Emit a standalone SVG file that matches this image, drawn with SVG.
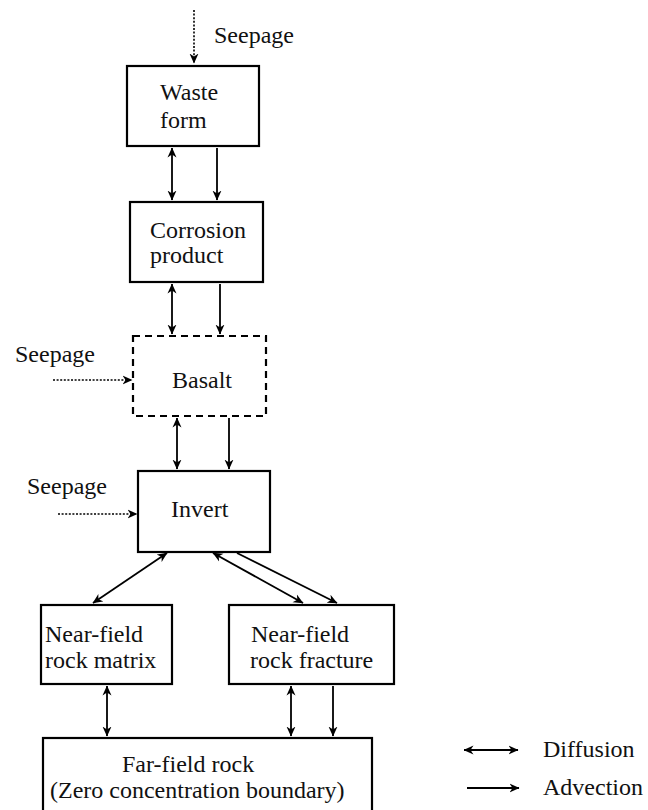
<svg xmlns="http://www.w3.org/2000/svg" width="648" height="810" viewBox="0 0 648 810" font-family="Liberation Serif, Times New Roman, Times, Nimbus Roman, FreeSerif, DejaVu Serif, serif">
<style>
  .box { fill: #fff; stroke: #000; stroke-width: 2.2; }
  .dash { stroke-dasharray: 7 5; }
  text { font-size: 24px; fill: #111; }
  .flow { stroke: #000; stroke-width: 1.8; fill: none; }
  .seep { stroke: #000; stroke-width: 1.6; stroke-dasharray: 2 1.6; fill: none; }
</style>
<defs>
  <marker id="head" viewBox="0 0 10 10" refX="9.5" refY="5" markerWidth="10" markerHeight="10" markerUnits="userSpaceOnUse" orient="auto-start-reverse">
    <path d="M0,0.5 L10,5 L0,9.5 L3,5 z" fill="#000"/>
  </marker>
</defs>
<rect width="648" height="810" fill="#fff"/>

<g id="waste-form">
  <rect class="box" x="127" y="66" width="132" height="80"/>
  <text x="160" y="100">Waste</text>
  <text x="160" y="128">form</text>
</g>

<g id="corrosion-product">
  <rect class="box" x="130" y="202" width="133" height="80"/>
  <text x="150" y="238">Corrosion</text>
  <text x="150" y="263">product</text>
</g>

<g id="basalt">
  <rect class="box dash" x="133" y="336" width="133" height="80"/>
  <text x="172" y="388">Basalt</text>
</g>

<g id="invert">
  <rect class="box" x="138" y="471" width="132" height="81"/>
  <text x="171" y="517">Invert</text>
</g>

<g id="near-field-matrix">
  <rect class="box" x="41" y="605" width="131" height="79"/>
  <text x="45" y="642">Near-field</text>
  <text x="45" y="668">rock matrix</text>
</g>

<g id="near-field-fracture">
  <rect class="box" x="229" y="605" width="165" height="79"/>
  <text x="251" y="642">Near-field</text>
  <text x="250" y="668">rock fracture</text>
</g>

<g id="far-field-rock">
  <rect class="box" x="43" y="738" width="329" height="80"/>
  <text x="122" y="772">Far-field rock</text>
  <text x="50" y="798">(Zero concentration boundary)</text>
</g>

<g id="seepage-labels">
  <text x="214" y="43">Seepage</text>
  <text x="15" y="362">Seepage</text>
  <text x="27" y="494">Seepage</text>
</g>

<g id="connectors">
  <!-- seepage inflows -->
  <path class="seep" d="M194,10 V63" marker-end="url(#head)"/>
  <path class="seep" d="M53,380 H132" marker-end="url(#head)"/>
  <path class="seep" d="M58,514 H137" marker-end="url(#head)"/>
  <!-- waste form / corrosion product -->
  <path class="flow" d="M172,148 V200" marker-start="url(#head)" marker-end="url(#head)"/>
  <path class="flow" d="M217,148 V200" marker-end="url(#head)"/>
  <!-- corrosion product / basalt -->
  <path class="flow" d="M172,284 V334" marker-start="url(#head)" marker-end="url(#head)"/>
  <path class="flow" d="M220,284 V334" marker-end="url(#head)"/>
  <!-- basalt / invert -->
  <path class="flow" d="M177,418 V469" marker-start="url(#head)" marker-end="url(#head)"/>
  <path class="flow" d="M229,418 V469" marker-end="url(#head)"/>
  <!-- invert / near-field -->
  <path class="flow" d="M167,553 L93,603" marker-start="url(#head)" marker-end="url(#head)"/>
  <path class="flow" d="M213,553 L303,603" marker-start="url(#head)" marker-end="url(#head)"/>
  <path class="flow" d="M237,553 L337,603" marker-end="url(#head)"/>
  <!-- near-field / far-field -->
  <path class="flow" d="M107,686 V736" marker-start="url(#head)" marker-end="url(#head)"/>
  <path class="flow" d="M291,686 V736" marker-start="url(#head)" marker-end="url(#head)"/>
  <path class="flow" d="M333,686 V736" marker-end="url(#head)"/>
</g>

<g id="legend">
  <path class="flow" d="M464,750 H518" marker-start="url(#head)" marker-end="url(#head)"/>
  <text x="543" y="757">Diffusion</text>
  <path class="flow" d="M467,788 H519" marker-end="url(#head)"/>
  <text x="543" y="795">Advection</text>
</g>
</svg>
